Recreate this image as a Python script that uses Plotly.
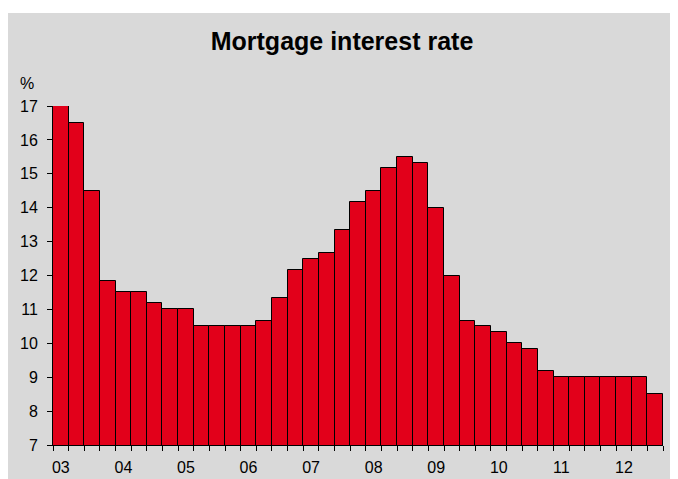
import plotly.graph_objects as go

# Quarterly categories 2003 Q1 .. 2012 Q3
years = ["03", "04", "05", "06", "07", "08", "09", "10", "11", "12"]
quarters = ["Q1", "Q2", "Q3", "Q4"]
categories = [f"{y} {q}" for y in years for q in quarters][:39]
tick_text = [c.split(" ")[0] if c.endswith("Q1") else "" for c in categories]

rates = [17.0, 16.5, 14.5, 11.83,
         11.5, 11.5, 11.2, 11.0,
         11.0, 10.5, 10.5, 10.5,
         10.5, 10.67, 11.33, 12.17,
         12.5, 12.67, 13.33, 14.17,
         14.5, 15.17, 15.5, 15.33,
         14.0, 12.0, 10.67, 10.5,
         10.33, 10.0, 9.83, 9.17,
         9.0, 9.0, 9.0, 9.0,
         9.0, 9.0, 8.5]

# page body has an 8px margin, so the figure is drawn 8px in from the window edge
W, H = 670, 471
L, R, T, B = 45, 15, 98, 34
pw, ph = W - L - R, H - T - B

fig = go.Figure(go.Bar(
    x=categories, y=rates,
    marker=dict(color="#E2001A", line=dict(color="black", width=1)),
))

font = "Arial, Liberation Sans, sans-serif"
fs = 16

fig.update_layout(
    width=W, height=H,
    margin=dict(l=L, r=R, t=T, b=B, autoexpand=False),
    paper_bgcolor="#D9D9D9",
    plot_bgcolor="rgba(0,0,0,0)",
    bargap=0,
    showlegend=False,
    font=dict(family=font, size=fs, color="black"),
    title=dict(text="<b>Mortgage interest rate</b>", x=334 / W, xanchor="center",
               y=1 - 33 / H, yanchor="middle", yref="container",
               font=dict(family=font, size=25, color="black")),
    xaxis=dict(type="category", tickmode="array", tickvals=categories, ticktext=tick_text,
               tickson="boundaries", ticks="outside", ticklen=5, tickcolor="black",
               tickangle=0, ticklabelstandoff=8, automargin=False,
               showline=True, linecolor="black", linewidth=1, showgrid=False,
               tickfont=dict(family=font, size=fs, color="black"),
               range=[-0.5, len(categories) - 0.5]),
    yaxis=dict(range=[7, 17], dtick=1, tick0=7, ticks="outside", ticklen=5, tickcolor="black",
               showline=True, linecolor="black", linewidth=1, showgrid=False, zeroline=False,
               automargin=False,
               tickfont=dict(family=font, size=fs, color="black"), ticklabelstandoff=6),
    shapes=[dict(type="rect", xref="paper", yref="paper", layer="below",
                 x0=-0.2, x1=1.2, y0=(H - B - 5) / ph, y1=1.5,
                 fillcolor="white", line=dict(width=0))],
    annotations=[dict(text="%", xref="paper", yref="paper", x=(10 - L) / pw, xanchor="left",
                      y=(H - B - 75) / ph, yanchor="middle", showarrow=False,
                      font=dict(family=font, size=fs, color="black"))],
)

fig.write_html("out.html")
